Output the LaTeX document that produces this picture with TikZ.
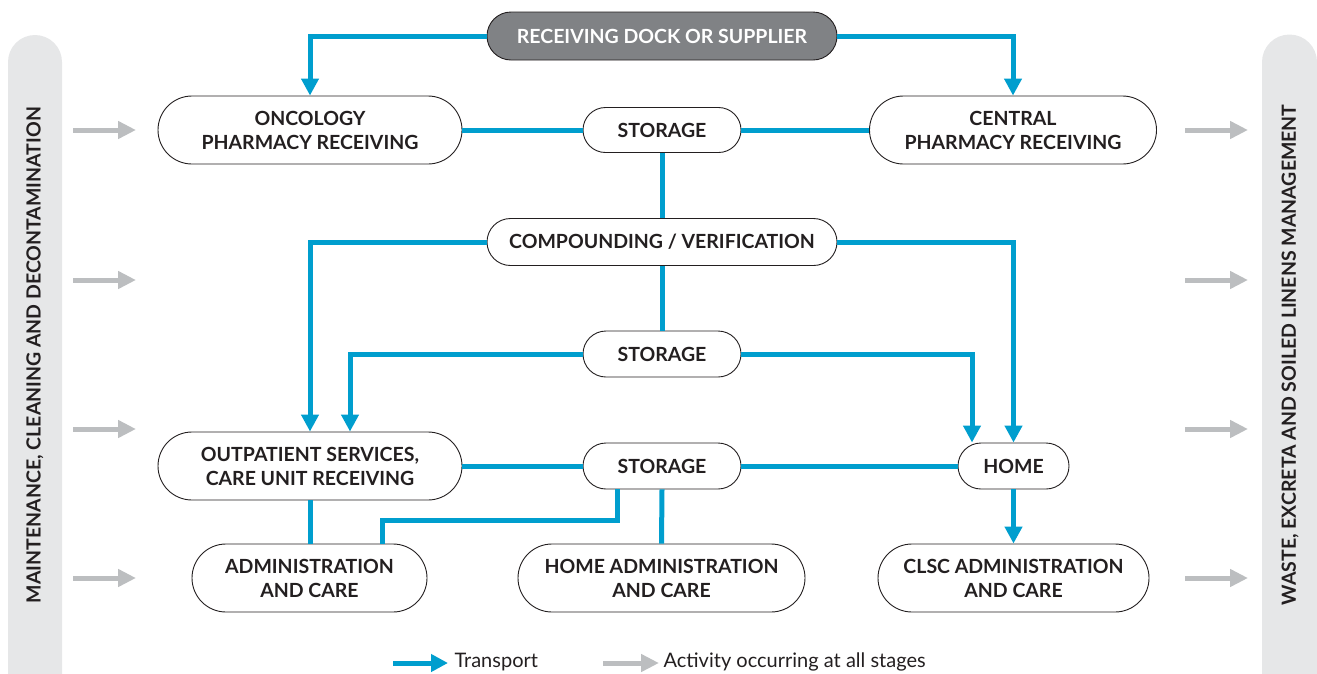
\documentclass[tikz,border=0pt]{standalone}
\usepackage{fontspec}
\setmainfont{Lato}
\usetikzlibrary{arrows.meta,calc}
\definecolor{tblue}{RGB}{0,158,206}
\definecolor{ngray}{RGB}{128,130,133}
\definecolor{bargray}{RGB}{230,231,232}
\definecolor{agray}{RGB}{188,190,192}
\definecolor{ink}{RGB}{35,31,32}
\tikzset{
  pill/.style={draw=ink, line width=0.9pt, fill=white, rounded corners=#1, inner sep=0pt, align=center,
    font=\fontsize{19.5}{24}\selectfont\bfseries, text=ink},
  tline/.style={draw=tblue, line width=5pt},
  tarrow/.style={tline, -{Triangle[length=17pt,width=17pt]}},
  garrow/.style={draw=agray, line width=5pt, -{Triangle[length=18pt,width=17pt]}},
  sidetext/.style={rotate=90, font=\fontsize{19.5}{22}\selectfont\bfseries, text=ink},
  legtext/.style={anchor=west, font=\fontsize{20}{22}\selectfont, text=ink}
}
\begin{document}
\begin{tikzpicture}[x=1pt,y=-1pt]
\useasboundingbox (0,0) rectangle (1317,673);
% side bars
\fill[bargray] (8,700) -- (8,62) arc(180:360:27) -- (62,700) -- cycle;
\fill[bargray] (1262,700) -- (1262,62) arc(180:360:27.5) -- (1317,700) -- cycle;
\node[sidetext] (lbar) at (35,355) {MAINTENANCE, CLEANING AND DECONTAMINATION};
\node[sidetext] (rbar) at (1290,355) {WASTE, EXCRETA AND SOILED LINENS MANAGEMENT};
% gray arrows
\foreach \yy/\n in {130/a,280/b,429/c,578/d}{
  \coordinate (ls\n) at (73,\yy); \coordinate (le\n) at (136,\yy);
  \coordinate (rs\n) at (1185,\yy); \coordinate (re\n) at (1248,\yy);
  \draw[garrow] (ls\n) -- (le\n);
  \draw[garrow] (rs\n) -- (re\n);
}
% nodes
\node[pill=24pt, fill=ngray, text=white, minimum width=350pt, minimum height=48pt] (dock) at (662,36) {RECEIVING DOCK OR SUPPLIER};
\node[pill=34pt, minimum width=304pt, minimum height=68pt] (onc) at (310,130) {ONCOLOGY\\PHARMACY RECEIVING};
\node[pill=22.5pt, minimum width=158pt, minimum height=45pt] (st1) at (662,130) {STORAGE};
\node[pill=34pt, minimum width=287pt, minimum height=68pt] (cen) at (1013,130) {CENTRAL\\PHARMACY RECEIVING};
\node[pill=23.5pt, minimum width=350pt, minimum height=47pt] (comp) at (662,242) {COMPOUNDING / VERIFICATION};
\node[pill=23pt, minimum width=158pt, minimum height=46pt] (st2) at (662,354) {STORAGE};
\node[pill=34pt, minimum width=304pt, minimum height=68pt] (out) at (310,466) {OUTPATIENT SERVICES,\\CARE UNIT RECEIVING};
\node[pill=23pt, minimum width=158pt, minimum height=46pt] (st3) at (662,466) {STORAGE};
\node[pill=23pt, minimum width=111pt, minimum height=46pt] (home) at (1013.5,466) {HOME};
\node[pill=34pt, minimum width=235pt, minimum height=68pt] (adm) at (309.5,578) {ADMINISTRATION\\AND CARE};
\node[pill=34pt, minimum width=287pt, minimum height=68pt] (hadm) at (661.5,578) {HOME ADMINISTRATION\\AND CARE};
\node[pill=34pt, minimum width=271pt, minimum height=68pt] (clsc) at (1013.5,578) {CLSC ADMINISTRATION\\AND CARE};
% connectors
\draw[tarrow] (dock.west) -| (onc.north);
\draw[tarrow] (dock.east) -| (cen.north);
\draw[tline] (onc.east) -- (st1.west);
\draw[tline] (st1.east) -- (cen.west);
\draw[tline] (st1.south) -- (comp.north);
\draw[tarrow] (comp.west) -| (out.north);
\draw[tarrow] (comp.east) -| (home.north);
\draw[tline] (comp.south) -- (st2.north);
\draw[tarrow] (st2.west) -| ($(out.north)+(40,0)$);
\draw[tarrow] (st2.east) -| ($(home.north)+(-41.5,0)$);
\draw[tline] (out.east) -- (st3.west);
\draw[tline] (st3.east) -- (home.west);
\draw[tarrow] (home.south) -- (clsc.north);
\draw[tline] (out.south) -- (out.south |- adm.north);
\coordinate (jog) at (382,520);
\draw[tline] ($(st3.south)+(-45,0)$) |- (jog) -- (jog |- adm.north);
\draw[tline] (st3.south) -- (hadm.north);
% legend
\coordinate (tl1) at (393,663); \coordinate (tl2) at (448,663);
\draw[tarrow] (tl1) -- (tl2);
\node[legtext] (tlab) at (451,662) {Transport};
\coordinate (gl1) at (603,663); \coordinate (gl2) at (659,663);
\draw[garrow] (gl1) -- (gl2);
\node[legtext] (glab) at (660,662) {Activity occurring at all stages};
\end{tikzpicture}
\end{document}
